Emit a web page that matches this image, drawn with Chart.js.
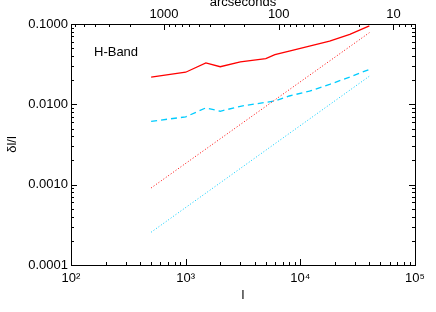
<!DOCTYPE html>
<html lang="en">
<head>
  <meta charset="UTF-8">
  <title>H-Band</title>
  <script src="https://cdn.jsdelivr.net/npm/chart.js"></script>
  <style>
    html, body { margin: 0; padding: 0; background: #fff; }
    canvas { display: block; }
  </style>
</head>
<body>
  <canvas id="chart" width="436" height="312"></canvas>

  <script>
    // multipoles where the two measured curves are sampled
    const ells = [500, 1000, 1500, 2000, 3000, 5000, 6000, 8000, 12000, 18000, 27000, 40000];
    const redSolid = [0.0218, 0.0251, 0.0328, 0.0294, 0.0337, 0.0370, 0.0415, 0.0460, 0.0530, 0.0614, 0.0743, 0.0950];
    const cyanDashed = [0.00615, 0.00698, 0.00904, 0.00820, 0.00946, 0.0106, 0.0110, 0.0127, 0.0146, 0.0177, 0.0219, 0.0272];

    // the dotted curves are straight on log-log, so only their end points
    const fitElls = [500, 40000];
    const redDotted = [0.00091, 0.078];
    const cyanDotted = [0.000256, 0.0224];

    // tick labels
    const xDecades = [100, 1000, 10000, 100000];
    const xLabels = ['10²', '10³', '10⁴', '10⁵'];
    const yDecades = [0.0001, 0.001, 0.01, 0.1];
    const yLabels = ['0.0001', '0.0010', '0.0100', '0.1000'];
    const arcsecLabels = [1000, 100, 10];
    const arcsecMinor = [6000, 5000, 4000, 3000, 2000, 900, 800, 700, 600, 500, 400, 300, 200,
                         90, 80, 70, 60, 50, 40, 30, 20, 9, 8, 7];

    const RED = 'rgb(255,0,0)';
    const CYAN = 'rgb(0,204,255)';
    const arcsecToEll = s => 648000 / s;   // l = 180*3600 / theta

    function logTicks(decades) {
      const out = [];
      decades.forEach((d, i) => {
        out.push({ value: d, major: true });
        if (i < decades.length - 1) {
          for (let k = 2; k <= 9; k++) out.push({ value: k * d, major: false });
        }
      });
      return out;
    }

    const pts = (xs, ys) => xs.map((x, i) => ({ x, y: ys[i] }));

    // IDL style frame: box with inward ticks on all four sides
    const frame = {
      id: 'frame',
      afterDatasetsDraw(chart) {
        const { ctx, chartArea: a, scales } = chart;
        const px = v => Math.round(v) + 0.5;
        ctx.save();
        ctx.strokeStyle = '#000';
        ctx.lineWidth = 1;
        ctx.beginPath();
        scales.x.ticks.forEach(t => {
          const x = px(scales.x.getPixelForValue(t.value));
          ctx.moveTo(x, a.bottom); ctx.lineTo(x, a.bottom - (t.major ? 6 : 3));
        });
        scales.x2.ticks.forEach(t => {
          const x = px(scales.x2.getPixelForValue(t.value));
          ctx.moveTo(x, a.top); ctx.lineTo(x, a.top + (t.major ? 6 : 3));
        });
        scales.y.ticks.forEach(t => {
          const y = px(scales.y.getPixelForValue(t.value));
          const len = t.major ? 6 : 3;
          ctx.moveTo(a.left, y); ctx.lineTo(a.left + len, y);
          ctx.moveTo(a.right, y); ctx.lineTo(a.right - len, y);
        });
        ctx.stroke();
        ctx.strokeRect(px(a.left), px(a.top), Math.round(a.right - a.left), Math.round(a.bottom - a.top));

        ctx.fillStyle = '#000';
        ctx.font = '13px "Liberation Sans", Arial, sans-serif';
        ctx.textBaseline = 'middle';
        ctx.fillText('H-Band', 94, 52);
        ctx.restore();
      }
    };

    Chart.defaults.font.family = '"Liberation Sans", Arial, sans-serif';
    Chart.defaults.font.size = 13;
    Chart.defaults.color = '#000';

    new Chart(document.getElementById('chart'), {
      type: 'line',
      data: {
        datasets: [
          { data: pts(ells, redSolid), borderColor: RED, borderWidth: 1.3 },
          { data: pts(fitElls, redDotted), borderColor: RED, borderWidth: 1, borderDash: [1, 2] },
          { data: pts(ells, cyanDashed), borderColor: CYAN, borderWidth: 1.3, borderDash: [6, 4] },
          { data: pts(fitElls, cyanDotted), borderColor: CYAN, borderWidth: 1, borderDash: [1, 2] }
        ]
      },
      options: {
        responsive: false,
        animation: false,
        devicePixelRatio: 1,
        layout: { padding: { left: 0, right: 21, top: 0, bottom: 0 } },
        elements: { point: { radius: 0 }, line: { tension: 0 } },
        plugins: { legend: { display: false }, tooltip: { enabled: false } },
        scales: {
          x: {
            type: 'logarithmic', position: 'bottom', min: 100, max: 100000,
            grid: { display: false, drawTicks: false }, border: { display: false },
            afterBuildTicks: s => { s.ticks = logTicks(xDecades); },
            afterFit: s => { s.height = 47; },
            ticks: {
              autoSkip: false, maxRotation: 0, padding: 6,
              callback: v => { const i = xDecades.indexOf(v); return i >= 0 ? xLabels[i] : ''; }
            },
            title: { display: true, text: 'l', padding: { bottom: 9 } }
          },
          x2: {
            type: 'logarithmic', position: 'top', min: 100, max: 100000,
            grid: { display: false, drawTicks: false }, border: { display: false },
            afterBuildTicks: s => {
              s.ticks = arcsecLabels.map(a => ({ value: arcsecToEll(a), major: true }))
                .concat(arcsecMinor.map(a => ({ value: arcsecToEll(a), major: false })));
            },
            afterFit: s => { s.height = 24; },
            ticks: {
              autoSkip: false, maxRotation: 0, padding: 2,
              callback: (v, i, t) => t[i].major ? String(Math.round(648000 / v)) : ''
            },
            title: { display: true, text: 'arcseconds', padding: { top: -5 } }
          },
          y: {
            type: 'logarithmic', position: 'left', min: 0.0001, max: 0.1,
            grid: { display: false, drawTicks: false }, border: { display: false },
            afterBuildTicks: s => { s.ticks = logTicks(yDecades); },
            afterFit: s => { s.width = 71; },
            ticks: {
              autoSkip: false, padding: 3,
              callback: v => { const i = yDecades.findIndex(d => Math.abs(d - v) < d * 1e-6); return i >= 0 ? yLabels[i] : ''; }
            },
            title: { display: true, text: 'δl/l', padding: { top: 5 } }
          }
        }
      },
      plugins: [frame]
    });
  </script>
</body>
</html>
